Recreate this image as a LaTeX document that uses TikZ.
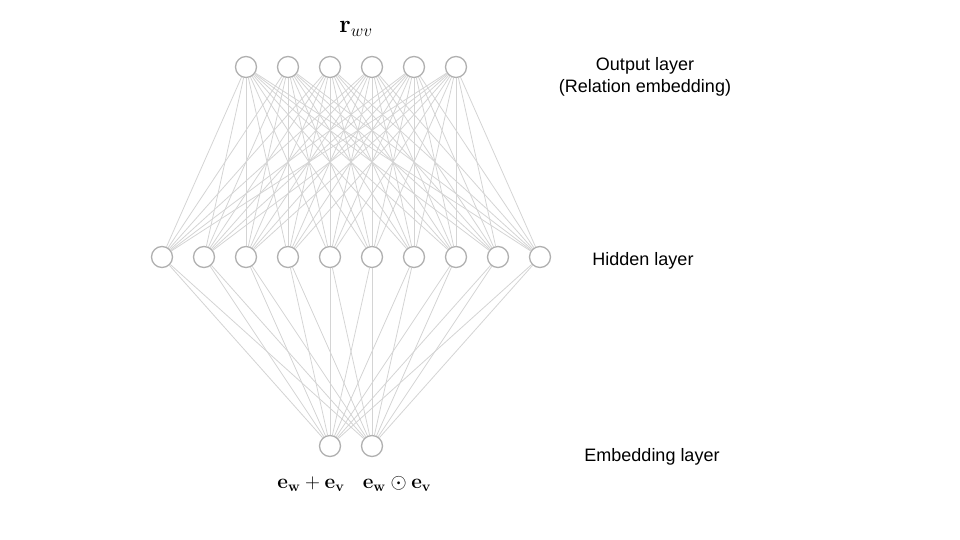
\documentclass[tikz,border=0pt]{standalone}
\usepackage{amsmath}
\usepackage[no-math]{fontspec}
\setmainfont{Liberation Sans}
\usepackage{tikz}
\usetikzlibrary{positioning}
\definecolor{UnitGray}{HTML}{B0B0B0}
\definecolor{EdgeGray}{HTML}{D4D4D4}
\tikzset{
  unit/.style={circle,draw=UnitGray,fill=white,line width=1.3pt,
    minimum size=21pt,inner sep=0pt},
  conn/.style={draw=EdgeGray,line width=0.8pt},
  layertext/.style={font=\fontsize{18}{22}\selectfont,align=center},
  mathtext/.style={font=\fontsize{21.5}{24}\selectfont,inner sep=0pt},
}

\begin{document}
\begin{tikzpicture}[x=1pt,y=-1pt]
  \useasboundingbox (0,0) rectangle (960,540);
  % units of the three layers
  \foreach \i in {1,...,6}
    \node[unit] (out\i) at ({204+42*\i}, 67) {};
  \foreach \i in {1,...,10}
    \node[unit] (hid\i) at ({120+42*\i}, 257) {};
  \node[unit] (emb1) at (330, 446) {};
  \node[unit] (emb2) at (372, 446) {};
  % full connections
  \foreach \i in {1,...,10} {
    \foreach \j in {1,...,6}
      \draw[conn] (hid\i) -- (out\j);
    \draw[conn] (emb1) -- (hid\i);
    \draw[conn] (emb2) -- (hid\i);
  }
  % labels
  \node[mathtext,font=\fontsize{25}{28}\selectfont] (rwv) at (356, 29) {$\mathbf{r}_{wv}$};
  \node[mathtext] (esum) at (311, 484) {$\mathbf{e}_{\mathbf{w}}+\mathbf{e}_{\mathbf{v}}$};
  \node[mathtext] (eprod) at (397, 484) {$\mathbf{e}_{\mathbf{w}}\odot\mathbf{e}_{\mathbf{v}}$};
  \node[layertext] (outlbl) at (645, 77) {Output layer\\(Relation embedding)};
  \node[layertext] (hidlbl) at (643, 261) {Hidden layer};
  \node[layertext] (emblbl) at (652, 457) {Embedding layer};
\end{tikzpicture}
\end{document}
